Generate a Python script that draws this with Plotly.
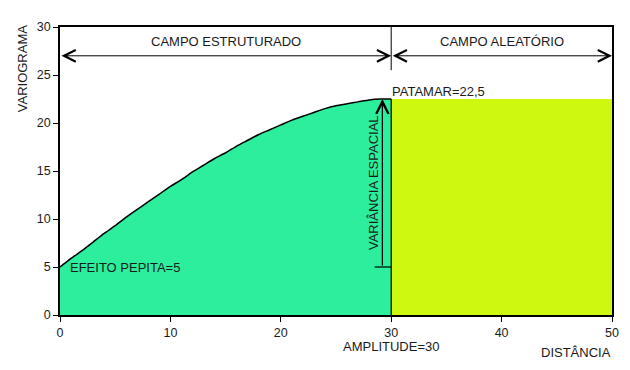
import plotly.graph_objects as go

# ---- data ----
distance = [0, 1, 2, 3, 4, 5, 6, 7, 8, 9, 10, 11, 12, 13, 14, 15, 16, 17, 18, 19, 20,
            21, 22, 23, 24, 25, 26, 27, 28, 29, 30]
variogram = [5.0, 5.9, 6.7, 7.6, 8.5, 9.3, 10.2, 11.0, 11.8, 12.6, 13.4, 14.1, 14.9, 15.6,
             16.3, 16.9, 17.6, 18.2, 18.8, 19.3, 19.8, 20.3, 20.7, 21.1, 21.5, 21.8, 22.0,
             22.2, 22.4, 22.5, 22.5]
nugget = 5
sill = 22.5
amplitude = 30
max_distance = 50
x_ticks = [0, 10, 20, 30, 40, 50]
y_ticks = [0, 5, 10, 15, 20, 25, 30]
arrow_level = 27

GREEN = "rgb(44,238,156)"
YELLOW = "rgb(206,248,16)"
FONT = "Liberation Sans, Arial, sans-serif"
TXT = "#1a1a1a"

fig = go.Figure()

# structured field (curve)
fig.add_trace(go.Scatter(
    x=distance, y=variogram, mode="lines", fill="tozeroy",
    fillcolor=GREEN, line=dict(color="black", width=1.5, shape="spline", smoothing=0.6),
    hoverinfo="skip"))

# random field (rectangle)
fig.add_trace(go.Scatter(
    x=[amplitude, amplitude, max_distance, max_distance, amplitude],
    y=[0, sill, sill, 0, 0], mode="lines", fill="toself",
    fillcolor=YELLOW, line=dict(width=0), hoverinfo="skip"))

shapes = [
    dict(type="line", xref="x", yref="y", x0=amplitude, x1=amplitude, y0=0, y1=sill,
         line=dict(color="black", width=1.2)),
    dict(type="line", xref="x", yref="y", x0=amplitude, x1=amplitude, y0=25.5, y1=30,
         line=dict(color="black", width=1)),
    dict(type="line", xref="x", yref="y", x0=28.5, x1=amplitude, y0=nugget, y1=nugget,
         line=dict(color="black", width=1.2)),
]

ann = []
# horizontal double arrows
for x0, x1 in [(0, amplitude), (amplitude, max_distance)]:
    ann.append(dict(x=x1, y=arrow_level, ax=x0, ay=arrow_level, xref="x", yref="y",
                    axref="x", ayref="y", text="", showarrow=True, arrowside="end+start",
                    arrowhead=5, startarrowhead=5, arrowsize=2.3, startarrowsize=2.3,
                    arrowwidth=1, arrowcolor="black"))
# vertical arrow (variância espacial)
ann.append(dict(x=29.2, y=sill, ax=29.2, ay=nugget, xref="x", yref="y",
                axref="x", ayref="y", text="", showarrow=True, arrowhead=5,
                arrowsize=2.0, arrowwidth=1.2, arrowcolor="black"))

def txt(text, x, y, xanchor="center", yanchor="middle", angle=0, xref="x", yref="y",
        xshift=0, yshift=0, size=13):
    return dict(text=text, x=x, y=y, xref=xref, yref=yref, xanchor=xanchor,
                yanchor=yanchor, textangle=angle, showarrow=False, xshift=xshift,
                yshift=yshift, borderpad=0,
                font=dict(family=FONT, size=size, color=TXT))

ann += [
    txt("CAMPO ESTRUTURADO", 15, 28.5),
    txt("CAMPO ALEATÓRIO", 40, 28.5),
    txt("PATAMAR=22,5", amplitude, sill, xanchor="left", yanchor="bottom", yshift=-1),
    txt("EFEITO PEPITA=5", 0.8, nugget, xanchor="left"),
    txt("VARIÂNCIA ESPACIAL", 28.4, 13.8, angle=-90),
    txt("AMPLITUDE=30", amplitude, 0, yref="y", yshift=-31),
    txt("DISTÂNCIA", 1, 0, xref="paper", yref="paper", xanchor="right", yshift=-37),
    txt("VARIOGRAMA", 0, 25.6, xref="paper", angle=-90, xshift=-38),
]

# page body adds ~8px offset, margins compensate
fig.update_layout(
    width=630, height=370, autosize=False,
    margin=dict(l=52, r=26, t=16, b=63),
    plot_bgcolor="white", paper_bgcolor="white",
    showlegend=False, shapes=shapes, annotations=ann,
    font=dict(family=FONT, size=13, color=TXT),
)
fig.update_xaxes(range=[0, max_distance], tickvals=x_ticks, showgrid=False, zeroline=False,
                 showline=True, linecolor="black", linewidth=1.5, mirror=True,
                 ticks="outside", ticklen=5, tickcolor="black",
                 tickfont=dict(family=FONT, size=12.5, color=TXT))
fig.update_yaxes(range=[0, 30], tickvals=y_ticks, showgrid=False, zeroline=False,
                 showline=True, linecolor="black", linewidth=1.5, mirror=True,
                 ticks="outside", ticklen=5, tickcolor="black",
                 tickfont=dict(family=FONT, size=12.5, color=TXT))

fig.write_html("out.html")
